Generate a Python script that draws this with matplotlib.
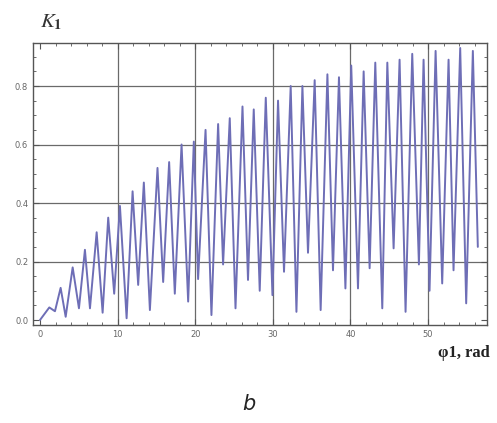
import matplotlib
matplotlib.use("Agg")
import matplotlib.pyplot as plt
from matplotlib.ticker import MultipleLocator

# Extrema (phi1 in rad, K1)
start_x = [0.0]
start_y = [0.0]
peak_x = [1.20, 2.66, 4.21, 5.79, 7.30, 8.79, 10.30, 11.93, 13.38, 15.14, 16.64, 18.24,
          19.82, 21.33, 22.95, 24.45, 26.09, 27.54, 29.09, 30.67, 32.30, 33.81, 35.39, 37.03,
          38.52, 40.10, 41.70, 43.20, 44.75, 46.33, 47.96, 49.42, 50.97, 52.64, 54.14, 55.77]
peak_y = [0.043, 0.11, 0.18, 0.24, 0.30, 0.35, 0.39, 0.44, 0.47, 0.52, 0.54, 0.60,
          0.61, 0.65, 0.67, 0.69, 0.73, 0.72, 0.76, 0.75, 0.80, 0.80, 0.82, 0.84,
          0.83, 0.87, 0.85, 0.88, 0.88, 0.89, 0.91, 0.89, 0.92, 0.89, 0.93, 0.92]
trough_x = [1.93, 3.31, 5.02, 6.44, 8.07, 9.56, 11.16, 12.65, 14.16, 15.87, 17.37, 19.09,
            20.37, 22.09, 23.59, 25.19, 26.80, 28.31, 29.95, 31.44, 33.04, 34.53, 36.16, 37.75,
            39.35, 40.97, 42.47, 44.10, 45.56, 47.10, 48.82, 50.19, 51.82, 53.28, 54.91, 56.41]
trough_y = [0.03, 0.011, 0.04, 0.04, 0.025, 0.09, 0.006, 0.12, 0.034, 0.13, 0.09, 0.063,
            0.14, 0.017, 0.19, 0.04, 0.137, 0.10, 0.085, 0.165, 0.028, 0.23, 0.034, 0.17,
            0.108, 0.108, 0.177, 0.04, 0.245, 0.028, 0.19, 0.10, 0.125, 0.17, 0.057, 0.25]

x_ticks = [0, 10, 20, 30, 40, 50]
y_ticks = [0.0, 0.2, 0.4, 0.6, 0.8]
x_grid = [10, 20, 30, 40, 50]
y_grid = [0.2, 0.4, 0.6, 0.8]

xs = list(start_x)
ys = list(start_y)
for px, py, tx, ty in zip(peak_x, peak_y, trough_x, trough_y):
    xs += [px, tx]
    ys += [py, ty]

plt.rcParams["mathtext.fontset"] = "stix"

fig = plt.figure(figsize=(4.97, 4.23), dpi=100)
ax = fig.add_axes([0.0664, 0.2317, 0.9136, 0.6666])

for g in x_grid:
    ax.axvline(g, color="#6a6a6a", lw=0.9, zorder=1)
for g in y_grid:
    ax.axhline(g, color="#6a6a6a", lw=0.9, zorder=1)

ax.plot(xs, ys, color="#6e6eb6", lw=1.4, zorder=2, solid_joinstyle="round",
        solid_capstyle="round")

ax.set_xlim(-0.9, 57.6)
ax.set_ylim(-0.017, 0.947)
ax.set_xticks(x_ticks)
ax.set_yticks(y_ticks)
ax.set_xticklabels([str(v) for v in x_ticks])
ax.set_yticklabels(["%.1f" % v for v in y_ticks])
ax.xaxis.set_minor_locator(MultipleLocator(2))
ax.yaxis.set_minor_locator(MultipleLocator(0.05))
ax.tick_params(which="both", direction="in", top=True, right=True, colors="#555555",
               labelsize=6, labelcolor="#666666")
ax.tick_params(which="major", length=4, width=0.8)
ax.tick_params(which="minor", length=2, width=0.6)
for s in ax.spines.values():
    s.set_color("#555555")
    s.set_linewidth(1.0)

fig.text(0.08, 0.935, r"$K_{\mathbf{1}}$", fontsize=15, color="#333333")
fig.text(0.985, 0.155, "φ1, rad", fontsize=12, family="Liberation Serif", fontweight="bold",
         ha="right", color="#222222")
fig.text(0.5, 0.03, "b", fontsize=15, style="italic", ha="center", color="#222222")

fig.savefig("out.png", dpi=100)
